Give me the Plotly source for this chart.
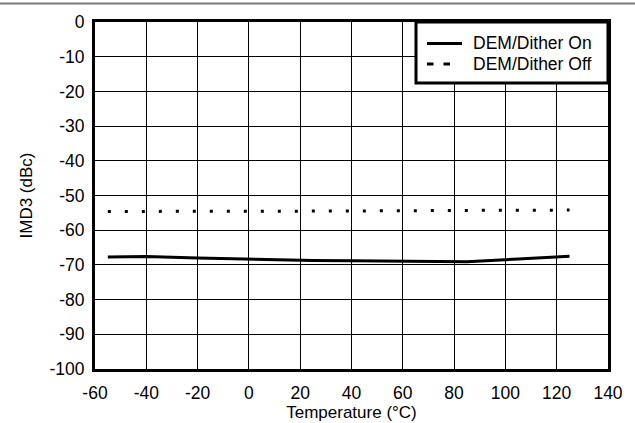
import plotly.graph_objects as go

# ---- data ----
temp_on = [-55, -40, -20, 0, 25, 40, 60, 85, 105, 125]
imd3_on = [-67.7, -67.6, -68.0, -68.4, -68.7, -68.8, -68.9, -69.1, -68.3, -67.5]

temp_off = [-55, -40, 25, 85, 125]
imd3_off = [-54.6, -54.6, -54.5, -54.3, -54.2]

series_names = ["DEM/Dither On", "DEM/Dither Off"]
x_ticks = [-60, -40, -20, 0, 20, 40, 60, 80, 100, 120, 140]
y_ticks = [0, -10, -20, -30, -40, -50, -60, -70, -80, -90, -100]

FONT = "Liberation Sans, Arial, sans-serif"

fig = go.Figure()
fig.add_trace(go.Scatter(x=temp_on, y=imd3_on, mode="lines", name=series_names[0],
                         line=dict(color="black", width=3), showlegend=False))
fig.add_trace(go.Scatter(x=temp_off, y=imd3_off, mode="lines", name=series_names[1],
                         line=dict(color="black", width=3, dash="3px,14px"), showlegend=False))

axis_common = dict(showline=True, linecolor="black", linewidth=3, mirror=True,
                   showgrid=True, gridcolor="#000000", gridwidth=1, zeroline=False,
                   ticks="", tickfont=dict(family=FONT, size=17.5, color="black"))

fig.update_xaxes(range=[-60, 140], tickvals=x_ticks, ticktext=[str(v) for v in x_ticks],
                 title=dict(text="Temperature (°C)", font=dict(family=FONT, size=17, color="black"), standoff=2),
                 ticklabelstandoff=6, **axis_common)
fig.update_yaxes(range=[-100, 0], tickvals=y_ticks, ticktext=[str(v) for v in y_ticks],
                 title=dict(text="IMD3 (dBc)", font=dict(family=FONT, size=17, color="black"), standoff=13),
                 ticklabelstandoff=4, **axis_common)

# manual legend (paper coords: plot area x 95-608, y 22-369)
def px(x):
    return (x - 95) / 513.0

def py(y):
    return (369 - y) / 347.0

shapes = [
    # top grey rule across the page
    dict(type="line", xref="paper", yref="paper", x0=px(0), x1=px(635), y0=py(3.5), y1=py(3.5),
         line=dict(color="#7a7a7a", width=2)),
    # legend box
    dict(type="rect", xref="paper", yref="paper", x0=px(416), x1=px(608), y0=py(83), y1=py(22),
         fillcolor="white", line=dict(color="black", width=3), layer="above"),
    dict(type="line", xref="paper", yref="paper", x0=px(427), x1=px(462), y0=py(43.5), y1=py(43.5),
         line=dict(color="black", width=3), layer="above"),
    # dashed sample: two short dashes
    dict(type="line", xref="paper", yref="paper", x0=px(427), x1=px(433.5), y0=py(64), y1=py(64),
         line=dict(color="black", width=3), layer="above"),
    dict(type="line", xref="paper", yref="paper", x0=px(443.5), x1=px(450), y0=py(64), y1=py(64),
         line=dict(color="black", width=3), layer="above"),
]
annotations = [
    dict(xref="paper", yref="paper", x=px(471), y=py(43.5), text=series_names[0], showarrow=False,
         xanchor="left", yanchor="middle", font=dict(family=FONT, size=17.5, color="black")),
    dict(xref="paper", yref="paper", x=px(471), y=py(64), text=series_names[1], showarrow=False,
         xanchor="left", yanchor="middle", font=dict(family=FONT, size=17.5, color="black")),
]

fig.update_layout(width=635, height=423, margin=dict(l=95, r=27, t=22, b=54, autoexpand=False),
                  paper_bgcolor="white", plot_bgcolor="white", shapes=shapes, annotations=annotations,
                  font=dict(family=FONT, color="black"))

fig.write_html("out.html", config={"displayModeBar": False},
               post_script="document.body.style.margin='0';document.body.style.overflow='hidden';")
